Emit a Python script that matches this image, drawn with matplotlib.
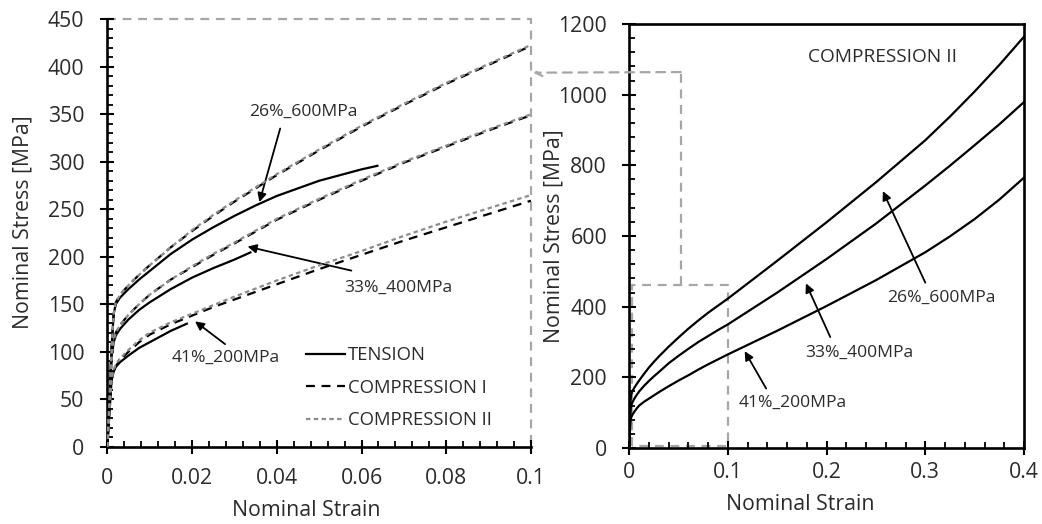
import matplotlib
matplotlib.use("Agg")
import matplotlib.pyplot as plt
from matplotlib.patches import ConnectionPatch
from matplotlib.lines import Line2D
from matplotlib.ticker import MultipleLocator

plt.rcParams['font.family'] = ['Open Sans', 'DejaVu Sans']

# ---------------- data ----------------
# strain grid shared by the compression curves (I and II)
strain_c = [0, 0.0005, 0.001, 0.0015, 0.002, 0.003, 0.005, 0.0075, 0.01, 0.015,
            0.02, 0.025, 0.03, 0.04, 0.05, 0.06, 0.07, 0.08, 0.09, 0.1,
            0.15, 0.2, 0.25, 0.3, 0.325, 0.35, 0.375, 0.4]

# 26%_600MPa
comp2_26 = [0, 50, 105, 140, 152, 160, 170, 181, 191, 210, 228, 244, 259, 287, 313,
            338, 361, 383, 403, 423, 530, 639, 752, 871, 938, 1009, 1084, 1164]
comp1_26 = [0, 50, 105, 140, 152, 160, 170, 181, 191, 210, 227, 243, 258, 286, 312,
            337, 360, 382, 402, 422]
tens_x_26 = [0, 0.0005, 0.001, 0.0015, 0.002, 0.003, 0.005, 0.0075, 0.01, 0.015,
             0.02, 0.025, 0.03, 0.035, 0.04, 0.05, 0.06, 0.064]
tens_26 = [0, 50, 105, 140, 150, 157, 166, 176, 185, 203, 218, 231, 243, 254, 264,
           280, 292, 296]

# 33%_400MPa
comp2_33 = [0, 45, 95, 112, 120, 128, 139, 150, 160, 176, 190, 203, 215, 240, 261,
            281, 300, 317, 334, 350, 440, 535, 635, 743, 799, 857, 916, 979]
comp1_33 = [0, 45, 95, 112, 120, 128, 139, 150, 160, 176, 189, 202, 214, 239, 260,
            280, 299, 316, 333, 349]
tens_x_33 = [0, 0.0005, 0.001, 0.0015, 0.002, 0.003, 0.005, 0.0075, 0.01, 0.015,
             0.02, 0.025, 0.03, 0.034]
tens_33 = [0, 45, 95, 110, 117, 124, 134, 144, 152, 166, 178, 188, 197, 205]

# 41%_200MPa
comp2_41 = [0, 35, 70, 81, 87, 93, 102, 112, 120, 131, 140, 149, 158, 175, 191,
            206, 222, 237, 251, 265, 332, 402, 475, 554, 599, 648, 703, 765]
comp1_41 = [0, 35, 70, 80, 85, 91, 100, 110, 118, 129, 138, 147, 155, 171, 187,
            202, 217, 231, 245, 259]
tens_x_41 = [0, 0.0005, 0.001, 0.0015, 0.002, 0.003, 0.005, 0.0075, 0.01, 0.015, 0.019]
tens_41 = [0, 35, 70, 79, 84, 89, 96, 104, 110, 122, 130]

labels = ['26%_600MPa', '33%_400MPa', '41%_200MPa']
legend_labels = ['TENSION', 'COMPRESSION I', 'COMPRESSION II']
left_xticks = [0, 0.02, 0.04, 0.06, 0.08, 0.1]
left_xticklabels = ['0', '0.02', '0.04', '0.06', '0.08', '0.1']
right_xticks = [0, 0.1, 0.2, 0.3, 0.4]
right_xticklabels = ['0', '0.1', '0.2', '0.3', '0.4']

# ---------------- figure ----------------
W, H = 1042, 524
fig = plt.figure(figsize=(W / 100, H / 100), dpi=100)
ax1 = fig.add_axes([0.1030, 0.1475, 0.4066, 0.8157])
ax2 = fig.add_axes([0.6039, 0.1450, 0.3788, 0.8092])

txt = '#2b2b2b'
GRAY = '#8c8c8c'
RECT = '#a6a6a6'
FS = 15.3
n_c1 = len(comp1_26)


def fx(px):
    return px / W


def fy(py):
    return 1 - py / H


def style_axes(ax, full_box, xpad, ypad):
    for s in ['left', 'bottom', 'top', 'right']:
        ax.spines[s].set_linewidth(1.9)
        ax.spines[s].set_color('black')
    if not full_box:
        ax.spines['top'].set_visible(False)
        ax.spines['right'].set_visible(False)
    ax.tick_params(which='major', direction='inout', length=10, width=1.5,
                   labelsize=FS, labelcolor=txt)
    ax.tick_params(which='minor', direction='in', length=4.5, width=1.3)
    ax.tick_params(axis='x', which='major', pad=xpad)
    ax.tick_params(axis='y', which='major', pad=ypad)
    ax.tick_params(top=False, right=False, which='both')


# ---- left panel ----
for tx, ty in [(tens_x_26, tens_26), (tens_x_33, tens_33), (tens_x_41, tens_41)]:
    ax1.plot(tx, ty, color='black', lw=1.6, solid_capstyle='butt', zorder=3)
for c1 in [comp1_26, comp1_33, comp1_41]:
    ax1.plot(strain_c[:n_c1], c1, color='black', lw=1.6, dashes=(4, 3), zorder=3)
for c2 in [comp2_26, comp2_33, comp2_41]:
    ax1.plot(strain_c[:n_c1], c2[:n_c1], color=GRAY, lw=1.6, dashes=(2, 1.5), zorder=4)

ax1.set_xlim(0, 0.1)
ax1.set_ylim(0, 450)
ax1.set_xticks(left_xticks)
ax1.set_xticklabels(left_xticklabels)
ax1.xaxis.set_minor_locator(MultipleLocator(0.004))
ax1.yaxis.set_major_locator(MultipleLocator(50))
ax1.yaxis.set_minor_locator(MultipleLocator(10))
style_axes(ax1, False, xpad=10.5, ypad=11.5)
ax1.set_xlabel('Nominal Strain', fontsize=FS, color=txt, va='center', ha='center')
ax1.xaxis.set_label_coords(fx(306), fy(510), transform=fig.transFigure)
ax1.set_ylabel('Nominal Stress [MPa]', fontsize=FS, color=txt, va='center', ha='center')
ax1.yaxis.set_label_coords(fx(23), fy(222), transform=fig.transFigure)

# zoom frame on left panel
ax1.plot([0, 0.1, 0.1], [450, 450, 0], color=RECT, lw=1.6, dashes=(4, 3),
         clip_on=False, zorder=1)

handles = [Line2D([], [], color='black', lw=1.6),
           Line2D([], [], color='black', lw=1.6, dashes=(4, 3)),
           Line2D([], [], color=GRAY, lw=1.6, dashes=(2, 1.5))]
leg = ax1.legend(handles, legend_labels, loc='upper left',
                 bbox_to_anchor=(0.4694, 0.2345), frameon=False,
                 fontsize=13.3, handlelength=2.08, handletextpad=0.18,
                 labelspacing=0.78, borderpad=0, borderaxespad=0)
for t in leg.get_texts():
    t.set_color(txt)

ap = dict(arrowstyle='-|>', color='black', lw=1.3, mutation_scale=13,
          shrinkA=0, shrinkB=0)
ANN = 12.6

ax1.text(0.0463, 352.5, labels[0], fontsize=ANN, color=txt, ha='center', va='center')
ax1.annotate('', xy=(0.0359, 257.5), xytext=(0.0408, 335), arrowprops=ap)
ax1.text(0.0687, 167, labels[1], fontsize=ANN, color=txt, ha='center', va='center')
ax1.annotate('', xy=(0.0331, 210.7), xytext=(0.0576, 185.4), arrowprops=ap)
ax1.text(0.0279, 94, labels[2], fontsize=ANN, color=txt, ha='center', va='center')
ax1.annotate('', xy=(0.0207, 132), xytext=(0.0278, 108), arrowprops=ap)

# ---- right panel ----
for c2 in [comp2_26, comp2_33, comp2_41]:
    ax2.plot(strain_c, c2, color='black', lw=1.6, zorder=3)
ax2.set_xlim(0, 0.4)
ax2.set_ylim(0, 1200)
ax2.set_xticks(right_xticks)
ax2.set_xticklabels(right_xticklabels)
ax2.xaxis.set_minor_locator(MultipleLocator(0.02))
ax2.yaxis.set_major_locator(MultipleLocator(200))
ax2.yaxis.set_minor_locator(MultipleLocator(40))
style_axes(ax2, True, xpad=5.4, ypad=11.0)
ax2.set_xlabel('Nominal Strain', fontsize=FS, color=txt, va='center', ha='center')
ax2.xaxis.set_label_coords(fx(800), fy(505), transform=fig.transFigure)
ax2.set_ylabel('Nominal Stress [MPa]', fontsize=FS, color=txt, va='center', ha='center')
ax2.yaxis.set_label_coords(fx(554), fy(236), transform=fig.transFigure)
ax2.text(fx(882), fy(57.5), 'COMPRESSION II', transform=fig.transFigure,
         fontsize=13.8, color=txt, ha='center', va='center')

ax2.text(0.316, 426, labels[0], fontsize=ANN, color=txt, ha='center', va='center')
ax2.annotate('', xy=(0.257, 727), xytext=(0.300, 468), arrowprops=ap)
ax2.text(0.2335, 270, labels[1], fontsize=ANN, color=txt, ha='center', va='center')
ax2.annotate('', xy=(0.179, 466), xytext=(0.2037, 314), arrowprops=ap)
ax2.text(0.1655, 128, labels[2], fontsize=ANN, color=txt, ha='center', va='center')
ax2.annotate('', xy=(0.117, 274), xytext=(0.1387, 168.5), arrowprops=ap)

# zoom rectangle on right panel and connector to left panel
ax2.plot([0.0024, 0.0024, 0.1, 0.1, 0.0024], [5, 462, 462, 5, 5], color=RECT,
         lw=1.6, dashes=(4, 3), zorder=1)
ax2.plot([0.0521, 0.0521], [462, 1064], color=RECT, lw=1.6, dashes=(4, 3), zorder=1,
         clip_on=False)
con = ConnectionPatch(xyA=(0.0521, 1064), coordsA=ax2.transData,
                      xyB=(0.1005, 393.8), coordsB=ax1.transData,
                      arrowstyle='->', color=RECT, lw=1.6, linestyle=(0, (4, 3)),
                      mutation_scale=12, shrinkA=0, shrinkB=0)
fig.add_artist(con)

fig.savefig('out.png', dpi=100)
